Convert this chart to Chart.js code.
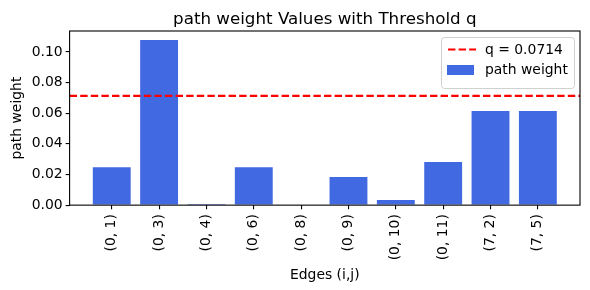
<!DOCTYPE html>
<html><head><meta charset="utf-8">
<script src="https://cdn.jsdelivr.net/npm/chart.js@4/dist/chart.umd.min.js"></script>
<style>html,body{margin:0;padding:0;background:#fff}canvas{display:block}</style>
</head><body>
<canvas id="c" width="590" height="290"></canvas>
<script>
const edgeLabels = ['(0, 1)','(0, 3)','(0, 4)','(0, 6)','(0, 8)','(0, 9)','(0, 10)','(0, 11)','(7, 2)','(7, 5)'];
const pathWeights = [0.0248, 0.1078, 0.0008, 0.0248, 0.0, 0.0183, 0.0033, 0.0281, 0.0614, 0.0614];
const threshold = 0.0714;
const yTicks = [0.00, 0.02, 0.04, 0.06, 0.08, 0.10];
const chartTitle = 'path weight Values with Threshold q';
const xMin = -0.89, xMax = 9.89, yMax = 0.1137;

const FONT = 'DejaVu Sans';
const FS = 13.9;

const framePlugin = {
  id: 'frame',
  afterDatasetsDraw(chart) {
    const {ctx, chartArea: a} = chart;
    ctx.save();
    ctx.strokeStyle = '#000';
    ctx.lineWidth = 1.1;
    ctx.strokeRect(a.left, a.top, a.right - a.left, a.bottom - a.top);
    // title centered over plot area
    ctx.fillStyle = '#000';
    ctx.font = '16.7px "' + FONT + '"';
    ctx.textAlign = 'center';
    ctx.textBaseline = 'alphabetic';
    ctx.fillText(chartTitle, (a.left + a.right) / 2, 24);
    // legend
    const bx = a.right - 139, by = a.top + 6, bw = 133, bh = 51;
    ctx.fillStyle = 'rgba(255,255,255,0.8)';
    ctx.strokeStyle = '#d0d0d0';
    ctx.lineWidth = 1;
    ctx.beginPath();
    ctx.roundRect(bx + 0.5, by + 0.5, bw, bh, 3);
    ctx.fill(); ctx.stroke();
    ctx.strokeStyle = 'red';
    ctx.lineWidth = 2.2;
    ctx.setLineDash([7.4, 3.2]);
    ctx.beginPath();
    ctx.moveTo(bx + 7, by + 12.5); ctx.lineTo(bx + 35, by + 12.5);
    ctx.stroke();
    ctx.setLineDash([]);
    ctx.fillStyle = '#4169E1';
    ctx.fillRect(bx + 6, by + 28, 27, 10);
    ctx.fillStyle = '#000';
    ctx.font = FS + 'px "' + FONT + '"';
    ctx.textBaseline = 'middle';
    ctx.textAlign = 'left';
    ctx.fillText(chart.data.datasets[0].label, bx + 44, by + 13);
    ctx.fillText(chart.data.datasets[1].label, bx + 44, by + 33.5);
    ctx.restore();
  }
};

new Chart(document.getElementById('c'), {
  data: {
    datasets: [
      {
        type: 'line',
        label: 'q = ' + threshold,
        data: [{x: xMin, y: threshold}, {x: xMax, y: threshold}],
        borderColor: 'red',
        borderWidth: 2.2,
        borderDash: [7.4, 3.2],
        pointRadius: 0,
        order: 0
      },
      {
        type: 'bar',
        label: 'path weight',
        data: pathWeights.map((v, i) => ({x: i, y: v})),
        backgroundColor: '#4169E1',
        borderWidth: 0,
        barPercentage: 0.8,
        categoryPercentage: 1.0,
        order: 1
      }
    ]
  },
  options: {
    responsive: false,
    animation: false,
    devicePixelRatio: 1,
    layout: {padding: {left: 9, right: 10, top: 31, bottom: 6}},
    plugins: {
      legend: {display: false},
      tooltip: {enabled: false},
      title: {display: false}
    },
    scales: {
      x: {
        type: 'linear',
        min: xMin, max: xMax,
        offset: false,
        afterBuildTicks(scale) { scale.ticks = edgeLabels.map((_, i) => ({value: i})); },
        ticks: {
          autoSkip: false,
          maxRotation: 90, minRotation: 90,
          color: '#000',
          padding: 5,
          font: {family: FONT, size: FS},
          callback: (v) => edgeLabels[v]
        },
        grid: {display: true, offset: false, drawOnChartArea: false, drawTicks: true, tickLength: 4, color: '#000', lineWidth: 1.1},
        border: {display: false},
        title: {display: true, text: 'Edges (i,j)', color: '#000', font: {family: FONT, size: FS}, padding: {top: 2, bottom: 0}}
      },
      y: {
        type: 'linear',
        min: 0, max: yMax,
        afterBuildTicks(scale) { scale.ticks = yTicks.map(v => ({value: v})); },
        ticks: {
          color: '#000',
          padding: 3,
          font: {family: FONT, size: FS},
          callback: (v) => v.toFixed(2)
        },
        grid: {display: true, offset: false, drawOnChartArea: false, drawTicks: true, tickLength: 4, color: '#000', lineWidth: 1.1},
        border: {display: false},
        title: {display: true, text: 'path weight', color: '#000', font: {family: FONT, size: FS}, padding: {top: 0, bottom: 3}}
      }
    }
  },
  plugins: [framePlugin]
});
</script>
</body></html>
